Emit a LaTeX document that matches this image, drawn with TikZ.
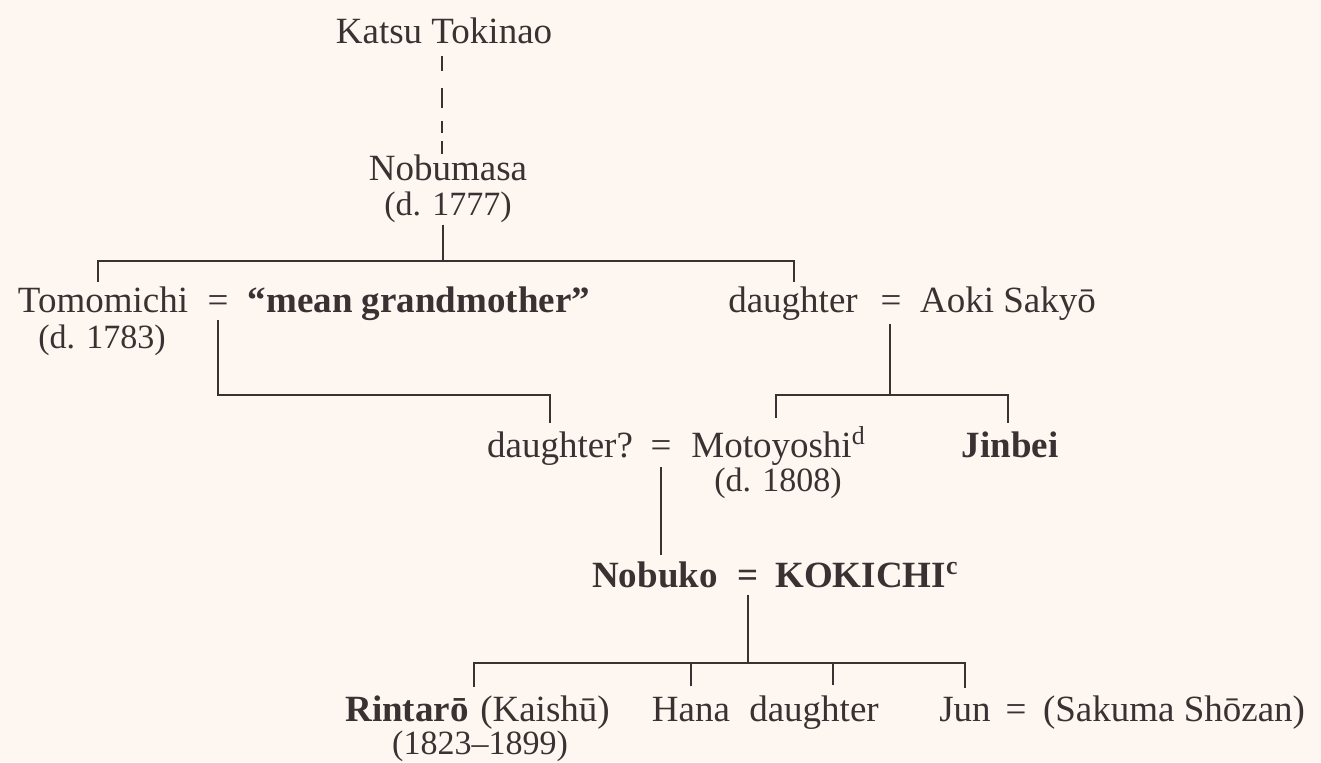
\documentclass[tikz,border=0pt]{standalone}
\usepackage{fontspec}
\setmainfont{Liberation Serif}
\definecolor{ink}{RGB}{58,50,50}
\definecolor{paper}{RGB}{253,246,241}
\begin{document}
\begin{tikzpicture}[x=0.5pt,y=-0.5pt,
  person/.style={anchor=base,inner sep=0pt,text=ink,font=\fontsize{18.5}{22}\selectfont},
  bperson/.style={person,font=\fontsize{18.5}{22}\selectfont\bfseries},
  wperson/.style={person,anchor=base west},
  bwperson/.style={bperson,anchor=base west},
  dates/.style={person,font=\fontsize{17}{20}\selectfont},
  line/.style={draw=ink,line width=1.3pt},
  dashline/.style={draw=ink,line width=1.1pt,dash pattern=on 7.5pt off 8.5pt on 10pt off 6.5pt on 6pt off 4pt on 6.5pt}]
\fill[paper] (0,0) rectangle (1321,762);
\useasboundingbox (0,0) rectangle (1321,762);
% row 1-2
\node[person] (katsu) at (444,43) {Katsu Tokinao};
\node[person] (nobumasa) at (448,180) {Nobumasa};
\node[dates] (nobud) at (448,215) {(d. 1777)};
% row 3
\node[person] (tomomichi) at (103,312) {Tomomichi};
\node[dates] (tomod) at (102,348) {(d. 1783)};
\node[person] (eq1) at (218,312) {=};
\node[bperson] (mean) at (419,312) {“mean grandmother”};
\node[person] (daughter1) at (793,312) {daughter};
\node[person] (eq2) at (891,312) {=};
\node[person] (aoki) at (1008,312) {Aoki Sakyō};
% row 4
\node[person] (daughterq) at (560,457) {daughter?};
\node[person] (eq3) at (661,457) {=};
\node[wperson] (motoyoshi) at (691,457) {Motoyoshi\textsuperscript{d}};
\node[dates] (motod) at (778,491) {(d. 1808)};
\node[bperson] (jinbei) at (1010,457) {Jinbei};
% row 5
\node[bperson] (nobuko) at (655,587) {Nobuko};
\node[bperson] (eq4) at (748,587) {=};
\node[bwperson] (kokichi) at (775,587) {KOKICHI\textsuperscript{c}};
% row 6
\node[bperson] (rintaro) at (407,721) {Rintarō};
\node[person] (kaishu) at (545,721) {(Kaishū)};
\node[dates] (rintd) at (480,754) {(1823–1899)};
\node[person] (hana) at (691,721) {Hana};
\node[person] (daughter2) at (814,721) {daughter};
\node[person] (jun) at (965,721) {Jun};
\node[person] (eq5) at (1016,721) {=};
\node[person] (sakuma) at (1174,721) {(Sakuma Shōzan)};
% junction coordinates
\coordinate (xd) at (442,0);
\coordinate (j1) at (443,261);
\coordinate (b1l) at (98,0);
\coordinate (b1r) at (794,0);
\coordinate (c1) at (550,395);
\coordinate (j2) at (890,395);
\coordinate (b2l) at (776,0);
\coordinate (b2r) at (1008,0);
\coordinate (j3) at (748,663);
\coordinate (t1) at (474,0);
\coordinate (t3) at (833,0);
% connectors
\draw[dashline] ([yshift=-6pt]katsu.south -| xd) -- (nobumasa.north -| xd);
\draw[line] ([yshift=-1pt]nobud.south -| j1) -- (j1);
\draw[line] ([yshift=2pt]tomomichi.north -| b1l) |- (j1) -| ([yshift=2pt]daughter1.north -| b1r);
\draw[line] ([yshift=-4pt]eq1.south) |- (c1) -- ([yshift=4pt]daughterq.north -| c1);
\draw[line] ([yshift=-6pt]eq2.south -| j2) -- (j2);
\draw[line] ([yshift=4pt]motoyoshi.north -| b2l) |- (j2) -| ([yshift=4pt]jinbei.north -| b2r);
\draw[line] ([yshift=-5pt]eq3.south) -- ([yshift=3pt]nobuko.north -| eq3.south);
\draw[line] ([yshift=-4pt]eq4.south) -- (j3);
\draw[line] ([yshift=4pt]rintaro.north -| t1) |- (j3) -| ([yshift=4pt]jun.north);
\draw[line] ([yshift=5pt]hana.north) -- (hana.north |- j3);
\draw[line] ([yshift=5pt]daughter2.north -| t3) -- (j3 -| t3);
\end{tikzpicture}
\end{document}
